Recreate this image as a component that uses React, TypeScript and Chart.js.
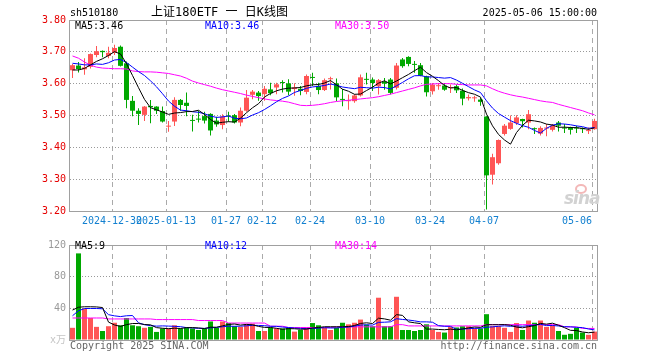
import React, { useEffect, useRef } from 'react';
import { Chart, registerables } from 'chart.js';

Chart.register(...registerables);

const MONO = "'DejaVu Sans Mono', 'Noto Sans CJK SC', monospace";

// ---- data ----
const tickIndex = [7, 16, 26, 32, 40, 50, 60, 69, 87];
const tickLabels = ['2024-12-30', '2025-01-13', '01-27', '02-12', '02-24', '03-10', '03-24', '04-07', '05-06'];

const opens = [
  3.642, 3.657, 3.645, 3.653, 3.690, 3.703, 3.687, 3.697, 3.716, 3.664,
  3.546, 3.515, 3.502, 3.530, 3.528, 3.514, 3.465, 3.481, 3.549, 3.540,
  3.486, 3.489, 3.498, 3.505, 3.484, 3.470, 3.500, 3.501, 3.478, 3.515,
  3.565, 3.572, 3.567, 3.582, 3.588, 3.604, 3.601, 3.583, 3.584, 3.574,
  3.620, 3.593, 3.580, 3.614, 3.601, 3.551, 3.545, 3.545, 3.563, 3.614,
  3.613, 3.592, 3.606, 3.613, 3.587, 3.676, 3.684, 3.661, 3.658, 3.623,
  3.576, 3.592, 3.594, 3.586, 3.592, 3.578, 3.554, 3.554, 3.550, 3.497,
  3.314, 3.350, 3.442, 3.458, 3.476, 3.489, 3.478, 3.459, 3.443, 3.459,
  3.455, 3.478, 3.461, 3.462, 3.461, 3.458, 3.451, 3.457,
];
const highs = [
  3.662, 3.668, 3.680, 3.695, 3.718, 3.704, 3.716, 3.722, 3.720, 3.670,
  3.561, 3.523, 3.530, 3.549, 3.529, 3.528, 3.483, 3.557, 3.552, 3.572,
  3.502, 3.515, 3.512, 3.507, 3.496, 3.504, 3.512, 3.505, 3.525, 3.580,
  3.580, 3.577, 3.593, 3.603, 3.603, 3.611, 3.614, 3.601, 3.593, 3.629,
  3.634, 3.603, 3.616, 3.622, 3.616, 3.583, 3.566, 3.567, 3.629, 3.634,
  3.619, 3.615, 3.618, 3.618, 3.665, 3.681, 3.686, 3.671, 3.665, 3.625,
  3.602, 3.602, 3.602, 3.597, 3.597, 3.585, 3.566, 3.562, 3.555, 3.498,
  3.380, 3.425, 3.473, 3.500, 3.501, 3.490, 3.517, 3.462, 3.466, 3.473,
  3.473, 3.483, 3.473, 3.465, 3.468, 3.462, 3.462, 3.490,
];
const lows = [
  3.618, 3.635, 3.628, 3.648, 3.683, 3.683, 3.680, 3.690, 3.654, 3.523,
  3.498, 3.470, 3.483, 3.476, 3.505, 3.478, 3.449, 3.467, 3.515, 3.498,
  3.450, 3.478, 3.475, 3.437, 3.465, 3.457, 3.480, 3.475, 3.466, 3.512,
  3.551, 3.546, 3.546, 3.564, 3.567, 3.572, 3.564, 3.562, 3.564, 3.567,
  3.593, 3.567, 3.577, 3.582, 3.545, 3.529, 3.518, 3.540, 3.560, 3.597,
  3.577, 3.566, 3.581, 3.566, 3.582, 3.650, 3.655, 3.634, 3.623, 3.560,
  3.566, 3.581, 3.578, 3.571, 3.571, 3.532, 3.547, 3.543, 3.531, 3.205,
  3.283, 3.345, 3.437, 3.455, 3.470, 3.462, 3.457, 3.442, 3.437, 3.435,
  3.450, 3.450, 3.445, 3.440, 3.445, 3.445, 3.442, 3.455,
];
const closes = [
  3.658, 3.646, 3.651, 3.693, 3.702, 3.699, 3.697, 3.712, 3.656, 3.549,
  3.515, 3.505, 3.528, 3.526, 3.515, 3.481, 3.468, 3.549, 3.533, 3.530,
  3.483, 3.487, 3.484, 3.453, 3.472, 3.497, 3.497, 3.478, 3.515, 3.556,
  3.575, 3.561, 3.584, 3.570, 3.598, 3.602, 3.575, 3.588, 3.577, 3.624,
  3.618, 3.580, 3.611, 3.616, 3.557, 3.549, 3.548, 3.563, 3.620, 3.612,
  3.602, 3.611, 3.600, 3.571, 3.657, 3.655, 3.662, 3.659, 3.625, 3.573,
  3.597, 3.594, 3.581, 3.588, 3.579, 3.553, 3.558, 3.556, 3.543, 3.312,
  3.369, 3.423, 3.468, 3.478, 3.494, 3.482, 3.504, 3.457, 3.461, 3.461,
  3.468, 3.468, 3.459, 3.455, 3.459, 3.457, 3.453, 3.483,
];
const volumes = [
  15.4, 109.4, 39.8, 27.8, 16.6, 11.4, 17.4, 21.8, 18.6, 27.8,
  18.6, 17.4, 15.4, 16.6, 10.2, 14.6, 14.6, 18.6, 14.6, 15.8,
  14.6, 12.6, 14.6, 23.4, 15.4, 23.4, 21.4, 17.4, 16.6, 19.8,
  20.6, 11.4, 11.4, 15.8, 14.6, 14.6, 15.4, 10.6, 12.6, 15.8,
  21.4, 18.6, 15.4, 12.6, 15.4, 21.8, 19.8, 21.8, 25.8, 19.4,
  17.4, 53.4, 17.4, 17.4, 54.6, 12.6, 12.6, 11.4, 12.6, 19.8,
  12.6, 10.2, 9.4, 16.6, 15.8, 17.4, 17.4, 14.6, 14.6, 32.6,
  17.4, 17.4, 15.4, 10.2, 21.4, 12.6, 24.6, 21.8, 24.6, 16.6,
  18.6, 11.4, 6.6, 7.8, 15.4, 9.4, 6.6, 10.6,
];
// sessions before the visible window (estimated from where the MA lines start)
const priorCloses = [3.666, 3.681, 3.693, 3.672, 3.713, 3.646, 3.626, 3.638, 3.647];
const priorVolumes = [45.6, 12, 27.4, 16.6, 15.4, 91.4, 36.8, 27.8, 17.6];
// MA30 lines
const priceMA30 = [
  3.687, 3.680, 3.668, 3.658, 3.652, 3.649, 3.648, 3.647, 3.647, 3.646,
  3.640, 3.638, 3.637, 3.637, 3.636, 3.634, 3.632, 3.628, 3.624, 3.617,
  3.608, 3.602, 3.597, 3.592, 3.586, 3.581, 3.577, 3.573, 3.569, 3.564,
  3.560, 3.556, 3.552, 3.549, 3.547, 3.545, 3.542, 3.537, 3.532, 3.531,
  3.532, 3.534, 3.537, 3.541, 3.544, 3.546, 3.548, 3.550, 3.552, 3.554,
  3.556, 3.559, 3.563, 3.567, 3.572, 3.577, 3.582, 3.587, 3.593, 3.598,
  3.599, 3.600, 3.600, 3.600, 3.598, 3.597, 3.596, 3.596, 3.596, 3.593,
  3.584, 3.576, 3.570, 3.565, 3.561, 3.558, 3.554, 3.550, 3.546, 3.543,
  3.541, 3.535, 3.530, 3.525, 3.520, 3.515, 3.508, 3.502,
];
const volumeMA30 = [
  27.8, 27.8, 27.8, 27.8, 27.8, 27.8, 26.6, 26.6, 26.6, 26.6,
  26.6, 26.6, 26.6, 26.6, 25.8, 25.8, 25.8, 25.8, 25.8, 25.8,
  25.8, 24.6, 24.6, 24.6, 24.6, 24.6, 21.4, 21.4, 21.4, 21.4,
  21.4, 21.4, 21.4, 17.4, 17.4, 17.4, 15.8, 15.8, 15.8, 15.8,
  15.8, 15.8, 15.8, 15.8, 16.6, 16.6, 16.6, 16.6, 16.6, 16.6,
  16.6, 16.6, 16.6, 16.6, 19.4, 19.4, 17.8, 17.8, 17.8, 17.8,
  17.8, 17.8, 17.8, 17.8, 17.8, 17.8, 17.8, 17.8, 17.8, 19.4,
  19.4, 19.4, 19.4, 19.4, 19.4, 19.4, 19.4, 19.4, 19.4, 19.4,
  19.4, 19.4, 16.6, 16.6, 16.6, 14.6, 14.6, 14.6,
];
const priceLegend = ['MA5:3.46', 'MA10:3.46', 'MA30:3.50'];
const volumeLegend = ['MA5:9', 'MA10:12', 'MA30:14'];

// ---- styling ----
const UP = '#ff5555';
const DOWN = '#00a800';
const MA_COLORS = ['#000000', '#0000ff', '#ff00ff'];
const N = closes.length;
const X_MIN = -5 / 12;
const X_MAX = X_MIN + N;

function movingAverage(values: number[], history: number[], n: number): number[] {
  const all = history.concat(values);
  return values.map((_, i) => {
    const end = history.length + i;
    let sum = 0;
    for (let k = end - n + 1; k <= end; k++) sum += all[k];
    return sum / n;
  });
}

const candleColor = (i: number) => (closes[i] >= opens[i] ? UP : DOWN);

const framePlugin = {
  id: 'frame',
  afterDraw(chart: any) {
    const { ctx, chartArea: a } = chart;
    ctx.save();
    ctx.strokeStyle = '#a0a0a0';
    ctx.lineWidth = 1;
    ctx.setLineDash([]);
    ctx.strokeRect(Math.round(a.left) - 0.5, Math.round(a.top) + 0.5, Math.round(a.right - a.left), Math.round(a.bottom - a.top));
    ctx.restore();
  },
};

function xAxis(showLabels: boolean, height: number) {
  return {
    type: 'linear',
    min: X_MIN,
    max: X_MAX,
    offset: false,
    bounds: 'ticks',
    afterBuildTicks: (axis: any) => {
      axis.ticks = tickIndex.map((i) => ({ value: i + X_MIN }));
    },
    afterFit: (axis: any) => {
      axis.height = height;
    },
    ticks: {
      display: showLabels,
      autoSkip: false,
      maxRotation: 0,
      minRotation: 0,
      padding: 4,
      color: '#1380d0',
      font: { family: MONO, size: 10 },
      // the last date label ends at its grid line (as in the original), the others are centred
      callback: (_v: any, idx: number) => {
        const label = tickLabels[idx];
        return idx === tickLabels.length - 1 ? label + ' '.repeat(label.length) : label;
      },
    },
    grid: { drawTicks: false, offset: false, color: '#aaaaaa', lineWidth: 1 },
    border: { display: false, dash: [5, 4] },
  };
}

function lineDataset(values: number[], color: string) {
  return {
    type: 'line',
    data: values.map((y, i) => ({ x: i, y })),
    borderColor: color,
    borderWidth: 1,
    pointRadius: 0,
    tension: 0,
    fill: false,
    order: 0,
  };
}

const baseOptions = {
  animation: false,
  responsive: false,
  maintainAspectRatio: false,
  events: [],
  plugins: { legend: { display: false }, tooltip: { enabled: false } },
};

function Text(props: { x: number; y: number; text: string; color?: string; align?: 'left' | 'right'; size?: number; style?: any }) {
  const { x, y, text, color = '#000', align = 'left', size = 10, style = {} } = props;
  const pos: any = align === 'right' ? { right: 660 - x } : { left: x };
  return (
    <div
      style={{
        position: 'absolute',
        top: y - 6,
        height: 12,
        lineHeight: '12px',
        whiteSpace: 'nowrap',
        fontFamily: MONO,
        fontSize: size,
        color,
        ...pos,
        ...style,
      }}
    >
      {text}
    </div>
  );
}

export default function App() {
  const priceRef = useRef<HTMLCanvasElement>(null);
  const volRef = useRef<HTMLCanvasElement>(null);

  useEffect(() => {
    const colors = closes.map((_, i) => candleColor(i));
    const ma5 = movingAverage(closes, priorCloses, 5);
    const ma10 = movingAverage(closes, priorCloses, 10);
    const vma5 = movingAverage(volumes, priorVolumes, 5);
    const vma10 = movingAverage(volumes, priorVolumes, 10);

    const priceChart = new Chart(priceRef.current as HTMLCanvasElement, {
      type: 'bar',
      data: {
        datasets: [
          lineDataset(ma5, MA_COLORS[0]),
          lineDataset(ma10, MA_COLORS[1]),
          lineDataset(priceMA30, MA_COLORS[2]),
          {
            type: 'bar',
            data: closes.map((c, i) => ({ x: i, y: [opens[i], c] })),
            backgroundColor: colors,
            borderWidth: 0,
            barThickness: 5,
            maxBarThickness: 5,
            minBarLength: 1,
            grouped: false,
            inflateAmount: 0,
            order: 1,
          },
          {
            type: 'bar',
            data: closes.map((_, i) => ({ x: i, y: [lows[i], highs[i]] })),
            backgroundColor: colors,
            borderWidth: 0,
            barThickness: 1,
            maxBarThickness: 1,
            grouped: false,
            inflateAmount: 0,
            order: 2,
          },
        ] as any,
      },
      options: {
        ...baseOptions,
        layout: { padding: { left: 0, right: 62, top: 20, bottom: 0 } },
        scales: {
          x: xAxis(true, 24),
          y: {
            min: 3.2,
            max: 3.8,
            afterFit: (s: any) => {
              s.width = 70;
            },
            ticks: {
              stepSize: 0.1,
              padding: 4,
              color: '#e60000',
              font: { family: MONO, size: 10 },
              callback: (v: any) => Number(v).toFixed(2),
            },
            grid: {
              drawTicks: false,
              lineWidth: 1,
              color: (c: any) => {
                const v = c.tick ? c.tick.value : 0;
                return v < 3.2001 || v > 3.7999 ? 'rgba(0,0,0,0)' : '#999999';
              },
            },
            border: { display: false, dash: [1, 2] },
          },
        },
      } as any,
      plugins: [framePlugin],
    });

    const volChart = new Chart(volRef.current as HTMLCanvasElement, {
      type: 'bar',
      data: {
        datasets: [
          lineDataset(vma5, MA_COLORS[0]),
          lineDataset(vma10, MA_COLORS[1]),
          lineDataset(volumeMA30, MA_COLORS[2]),
          {
            type: 'bar',
            data: volumes.map((v, i) => ({ x: i, y: v })),
            backgroundColor: colors,
            borderWidth: 0,
            barThickness: 5,
            maxBarThickness: 5,
            grouped: false,
            inflateAmount: 0,
            order: 1,
          },
        ] as any,
      },
      options: {
        ...baseOptions,
        layout: { padding: { left: 0, right: 62, top: 5, bottom: 20 } },
        scales: {
          x: xAxis(false, 0),
          y: {
            min: 0,
            max: 120,
            afterFit: (s: any) => {
              s.width = 70;
            },
            ticks: {
              stepSize: 40,
              padding: 4,
              color: (c: any) => (c.tick && c.tick.value === 0 ? '#c4c4c4' : '#999999'),
              font: { family: MONO, size: 10 },
              callback: (v: any) => (Number(v) === 0 ? 'x万' : String(v)),
            },
            grid: {
              drawTicks: false,
              lineWidth: 1,
              color: (c: any) => {
                const v = c.tick ? c.tick.value : 0;
                return v <= 0 || v >= 120 ? 'rgba(0,0,0,0)' : '#999999';
              },
            },
            border: { display: false, dash: [1, 2] },
          },
        },
      } as any,
      plugins: [framePlugin],
    });

    return () => {
      priceChart.destroy();
      volChart.destroy();
    };
  }, []);

  return (
    <div style={{ position: 'absolute', left: 0, top: 0, width: 660, height: 360, background: '#fff', overflow: 'hidden' }}>
      <canvas ref={priceRef} width={660} height={235} style={{ position: 'absolute', left: 0, top: 0 }} />
      <canvas ref={volRef} width={660} height={125} style={{ position: 'absolute', left: 0, top: 235 }} />

      <Text x={70} y={13} text="sh510180" />
      <Text x={151} y={12} text="上证180ETF 一 日K线图" size={12} style={{ height: 14, lineHeight: '14px', top: 5 }} />
      <Text x={597} y={13} text="2025-05-06 15:00:00" align="right" />

      <Text x={75} y={26} text={priceLegend[0]} color={MA_COLORS[0]} />
      <Text x={205} y={26} text={priceLegend[1]} color={MA_COLORS[1]} />
      <Text x={335} y={26} text={priceLegend[2]} color={MA_COLORS[2]} />

      <Text x={75} y={246} text={volumeLegend[0]} color={MA_COLORS[0]} />
      <Text x={205} y={246} text={volumeLegend[1]} color={MA_COLORS[1]} />
      <Text x={335} y={246} text={volumeLegend[2]} color={MA_COLORS[2]} />

      <Text x={70} y={346} text="Copyright 2025 SINA.COM" color="#666" />
      <Text x={597} y={346} text="http://finance.sina.com.cn" color="#666" align="right" />

      <div
        style={{
          position: 'absolute',
          left: 575,
          top: 184,
          width: 8,
          height: 6,
          border: '2px solid #f3b8b8',
          borderRadius: '50%',
        }}
      />
      <div
        style={{
          position: 'absolute',
          left: 564,
          top: 189,
          fontFamily: "'DejaVu Sans', sans-serif",
          fontStyle: 'italic',
          fontWeight: 'bold',
          fontSize: 17,
          lineHeight: '18px',
          letterSpacing: '-1px',
          color: '#d2d2d2',
        }}
      >
        sina
      </div>
    </div>
  );
}
